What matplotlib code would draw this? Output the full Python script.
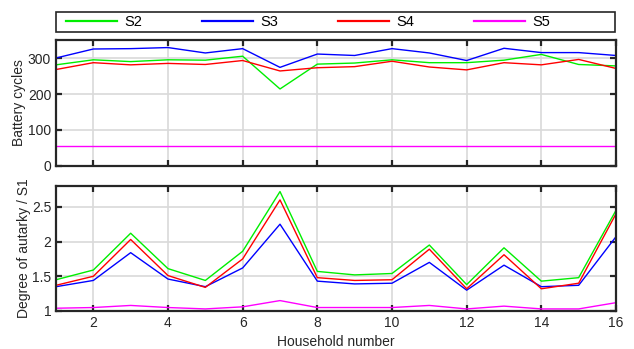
import matplotlib
matplotlib.use("Agg")
import matplotlib.pyplot as plt
from matplotlib.patches import Rectangle
import numpy as np

plt.rcParams['font.family'] = ['Liberation Sans', 'DejaVu Sans']

households = list(range(1, 17))
series_names = ["S2", "S3", "S4", "S5"]
colors = ["#00ee00", "#0000ff", "#ff0000", "#ff00ff"]

cycles_s2 = [281, 295, 290, 295, 294, 305, 214, 283, 286, 295, 287, 287, 294, 310, 282, 278]
cycles_s3 = [300, 325, 326, 329, 314, 326, 274, 311, 307, 326, 314, 293, 327, 315, 315, 307]
cycles_s4 = [268, 287, 281, 285, 282, 293, 264, 273, 276, 291, 275, 267, 287, 281, 296, 271]
cycles_s5 = [55] * 16

aut_s2 = [1.45, 1.59, 2.12, 1.61, 1.44, 1.86, 2.72, 1.57, 1.52, 1.54, 1.95, 1.38, 1.91, 1.43, 1.48, 2.45]
aut_s3 = [1.35, 1.44, 1.84, 1.46, 1.35, 1.62, 2.25, 1.43, 1.39, 1.40, 1.70, 1.30, 1.66, 1.35, 1.37, 2.07]
aut_s4 = [1.37, 1.50, 2.03, 1.51, 1.34, 1.75, 2.60, 1.48, 1.44, 1.45, 1.89, 1.32, 1.81, 1.32, 1.40, 2.40]
aut_s5 = [1.04, 1.05, 1.08, 1.05, 1.03, 1.06, 1.15, 1.05, 1.05, 1.05, 1.08, 1.03, 1.07, 1.03, 1.03, 1.12]

W, H = 634, 349
fig = plt.figure(figsize=(W / 100, H / 100), dpi=100)

def rect(l, t, r, b):
    return [l / W, 1 - b / H, (r - l) / W, (b - t) / H]

ax1 = fig.add_axes(rect(56, 40, 616, 166))
ax2 = fig.add_axes(rect(56, 186, 616, 311))

def style(ax):
    ax.grid(True, color="#d9d9d9", linewidth=1.2)
    ax.set_axisbelow(True)
    for s in ax.spines.values():
        s.set_linewidth(1.6)
        s.set_color("#262626")
    ax.tick_params(direction="in", top=True, right=True, length=4, width=1.6,
                   colors="#262626", labelsize=10)
    ax.set_xlim(1, 16)
    ax.set_xticks(range(2, 17, 2))

lines = []
for vals, c in zip([cycles_s2, cycles_s3, cycles_s4, cycles_s5], colors):
    l, = ax1.plot(households, vals, color=c, linewidth=1.0)
    lines.append(l)
for vals, c in zip([aut_s2, aut_s3, aut_s4, aut_s5], colors):
    ax2.plot(households, vals, color=c, linewidth=1.0)

style(ax1)
style(ax2)
ax1.set_ylim(0, 350)
ax1.set_yticks([0, 100, 200, 300])
ax1.set_xticklabels([])
ax2.set_ylim(1, 2.8)
ax2.set_yticks([1, 1.5, 2, 2.5])
ax2.set_yticklabels(["1", "1.5", "2", "2.5"])
ax1.set_ylabel("Battery cycles", fontsize=10, color="#262626")
ax2.set_ylabel("Degree of autarky / S1", fontsize=10, color="#262626")
ax2.set_xlabel("Household number", fontsize=10, color="#262626", labelpad=4)
ax1.yaxis.set_label_coords(-0.054, 0.5)
ax2.yaxis.set_label_coords(-0.045, 0.5)

# legend frame
fig.patches.append(Rectangle((56 / W, 1 - 32 / H), 559 / W, 20 / H,
                             transform=fig.transFigure, fill=True,
                             facecolor="white", edgecolor="#262626",
                             linewidth=1.2, zorder=1))
leg = fig.legend(lines, series_names, loc="center left",
                 bbox_to_anchor=(66 / W, 1 - 22 / H),
                 ncol=4, frameon=False, fontsize=10.5, handlelength=3.5,
                 borderaxespad=0, borderpad=0, handletextpad=0.5,
                 columnspacing=4.1)
for l in leg.get_lines():
    l.set_linewidth(1.6)

fig.savefig("out.png", dpi=100)
